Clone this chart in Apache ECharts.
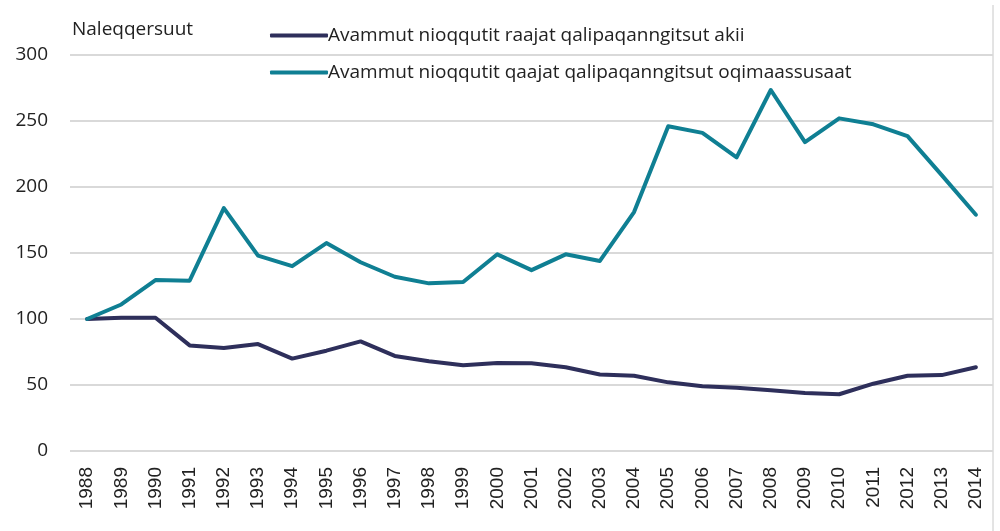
<!DOCTYPE html>
<html style="height: 100%">
<head>
    <meta charset="utf-8">
</head>
<body style="height: 100%; margin: 0; background: #fff">
<div id="container" style="width: 1000px; height: 531px"></div>
<script type="text/javascript" src="https://cdn.jsdelivr.net/npm/echarts@6/dist/echarts.min.js"></script>
<script type="text/javascript">
  const years = ['1988', '1989', '1990', '1991', '1992', '1993', '1994', '1995', '1996',
    '1997', '1998', '1999', '2000', '2001', '2002', '2003', '2004', '2005', '2006',
    '2007', '2008', '2009', '2010', '2011', '2012', '2013', '2014'];
  // raajat qalipaqanngitsut akii
  const priceSeries = [100, 101, 101, 80, 78, 81, 70, 76, 83, 72, 68, 65, 66.7, 66.4,
    63.4, 58, 57, 52, 49, 48, 46, 44, 43, 51, 57, 57.5, 63.4];
  // qaajat qalipaqanngitsut oqimaassusaat
  const weightSeries = [100, 111, 129.5, 129, 184, 148, 140, 157.5, 143, 132, 127, 128,
    149, 137, 149, 144, 181, 246, 241, 222.5, 273.5, 234, 252, 247.5, 238.5, 209, 179];
  const seriesNames = [
    'Avammut nioqqutit raajat qalipaqanngitsut akii',
    'Avammut nioqqutit qaajat qalipaqanngitsut oqimaassusaat'
  ];

  var dom = document.getElementById("container");
  var myChart = echarts.init(dom);
  var font = '"Open Sans", sans-serif';
  var option = {
    animation: false,
    color: ['#2e2f5b', '#0f7f93'],
    grid: {
      left: 70,
      right: 7,
      top: 55,
      bottom: 80
    },
    title: {
      text: 'Naleqqersuut',
      left: 67,
      top: 15,
      textStyle: { fontFamily: font, fontSize: 19, fontWeight: 'normal', color: '#222' }
    },
    legend: {
      orient: 'vertical',
      left: 265,
      top: 21,
      itemWidth: 58,
      itemHeight: 4,
      itemGap: 18,
      icon: 'roundRect',
      data: seriesNames,
      textStyle: { fontFamily: font, fontSize: 19, color: '#222', padding: [0, 0, 0, -5] }
    },
    xAxis: {
      type: 'category',
      data: years,
      boundaryGap: true,
      axisLine: { show: false },
      axisTick: { show: false },
      axisLabel: {
        rotate: 90,
        margin: 16,
        fontFamily: '"Liberation Sans", sans-serif',
        fontSize: 19,
        color: '#222',
        interval: 0
      }
    },
    yAxis: {
      type: 'value',
      min: 0,
      max: 300,
      interval: 50,
      axisLine: { show: false },
      axisTick: { show: false },
      axisLabel: { margin: 22, fontFamily: font, fontSize: 19, color: '#222' },
      splitLine: { lineStyle: { color: '#d9d9d9', width: 2 } }
    },
    graphic: [{
      type: 'line',
      shape: { x1: 993, y1: 5, x2: 993, y2: 531 },
      style: { stroke: '#c8c8c8', lineWidth: 1 }
    }],
    series: [
      {
        name: seriesNames[0],
        type: 'line',
        data: priceSeries,
        symbol: 'none',
        lineStyle: { width: 4, cap: 'round', join: 'round' }
      },
      {
        name: seriesNames[1],
        type: 'line',
        data: weightSeries,
        symbol: 'none',
        lineStyle: { width: 4, cap: 'round', join: 'round' }
      }
    ]
  };
  myChart.setOption(option);
</script>
</body>
</html>
